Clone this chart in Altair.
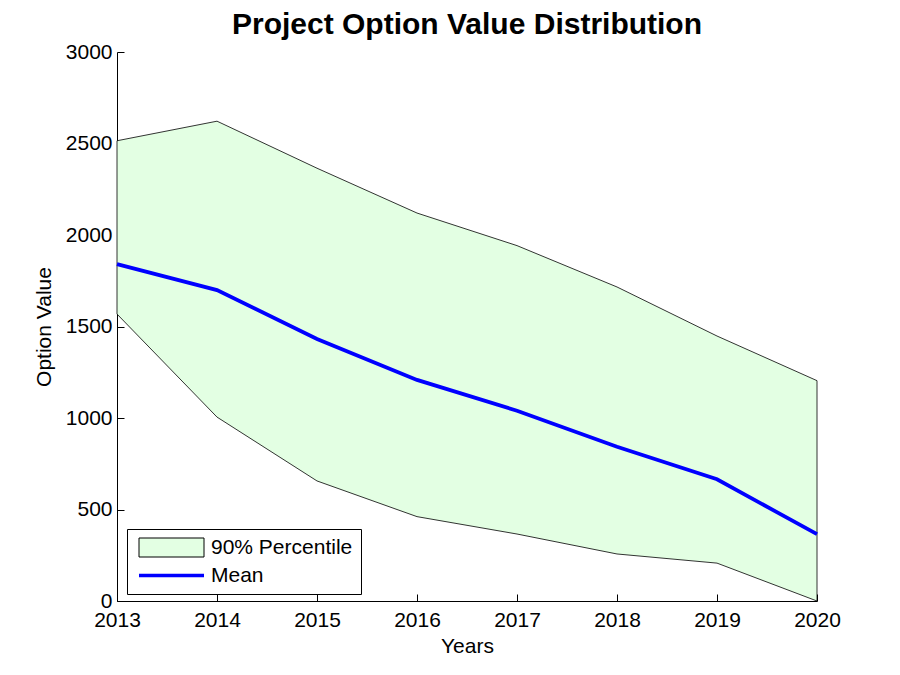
import altair as alt
import pandas as pd

# ---- data ----
years = [2013, 2014, 2015, 2016, 2017, 2018, 2019, 2020]
upper = [2515, 2622, 2365, 2120, 1942, 1716, 1448, 1204]
lower = [1568, 1005, 656, 461, 366, 257, 207, 0]
mean = [1841, 1699, 1432, 1208, 1040, 843, 665, 365]
series = ["90% Percentile", "Mean"]
x_ticks = [2013, 2014, 2015, 2016, 2017, 2018, 2019, 2020]
y_ticks = [0, 500, 1000, 1500, 2000, 2500, 3000]

band = pd.DataFrame({"year": years, "lower": lower, "upper": upper, "s": series[0]})
avg = pd.DataFrame({"year": years, "mean": mean, "s": series[1]})

FONT = "Liberation Sans"
GREEN = "#e3ffe3"
BLUE = "#0000ff"
W, H = 700, 549

fill_scale = alt.Scale(domain=series, range=[GREEN, BLUE])
stroke_scale = alt.Scale(domain=series, range=["#000000", BLUE])

SWATCH = "M-3.25,-0.95H3.25V0.95H-3.25Z"
LINE = "M-3.25,0H3.25"

legend = alt.Legend(
    title=None,
    orient="none",
    legendX=10,
    legendY=477,
    padding=8,
    strokeColor="black",
    fillColor="white",
    cornerRadius=0,
    labelFont=FONT,
    labelFontSize=21,
    labelColor="black",
    labelLimit=0,
    symbolSize=400,
    symbolType=alt.ExprRef(expr=f"datum.value == 'Mean' ? '{LINE}' : '{SWATCH}'"),
    symbolStrokeWidth=alt.ExprRef(expr="datum.value == 'Mean' ? 3.5 : 1"),
    symbolOpacity=1,
    symbolOffset=26,
    labelOffset=29,
    rowPadding=5,
)

x_enc = alt.X(
    "year:Q",
    scale=alt.Scale(domain=[2013, 2020], nice=False, zero=False),
    axis=alt.Axis(
        values=x_ticks,
        format="d",
        title="Years",
        labelPadding=8,
        titlePadding=5,
        labelFlush=False,
        gridDash=[7, H - 7],
        gridDashOffset=7,
    ),
)

y_axis = alt.Axis(
    values=y_ticks,
    format="d",
    title="Option Value",
    labelPadding=5,
    titlePadding=11,
    gridDash=[7, 2000],
)
y_scale = alt.Scale(domain=[0, 3000], nice=False)

area = alt.Chart(band).mark_area(strokeWidth=0.8, fillOpacity=1, opacity=1).encode(
    x=x_enc,
    y=alt.Y("lower:Q", scale=y_scale, axis=y_axis),
    y2="upper:Q",
    fill=alt.Fill("s:N", scale=fill_scale, legend=legend),
    stroke=alt.Stroke("s:N", scale=stroke_scale, legend=legend),
)

line = alt.Chart(avg).mark_line(strokeWidth=3.8).encode(
    x=x_enc,
    y=alt.Y("mean:Q", scale=y_scale, axis=y_axis),
    stroke=alt.Stroke("s:N", scale=stroke_scale, legend=legend),
)

chart = (
    alt.layer(area, line)
    .properties(
        width=W,
        height=H,
        title="Project Option Value Distribution",
        autosize=alt.AutoSizeParams(type="none"),
        padding={"left": 109, "top": 44, "right": 75, "bottom": 66},
        background="white",
    )
    .configure_view(stroke="transparent")
    .configure_axis(
        labelFont=FONT,
        titleFont=FONT,
        labelFontSize=21,
        titleFontSize=21,
        labelColor="black",
        titleColor="black",
        titleFontWeight="normal",
        domainColor="black",
        domainWidth=1,
        ticks=False,
        grid=True,
        gridColor="black",
        gridWidth=1,
        gridOpacity=1,
        zindex=1,
    )
    .configure_title(
        font=FONT,
        fontSize=30,
        fontWeight="bold",
        color="black",
        anchor="middle",
        baseline="alphabetic",
        offset=1,
    )
)

chart.save("out.html", embed_options={"renderer": "svg", "actions": False})
